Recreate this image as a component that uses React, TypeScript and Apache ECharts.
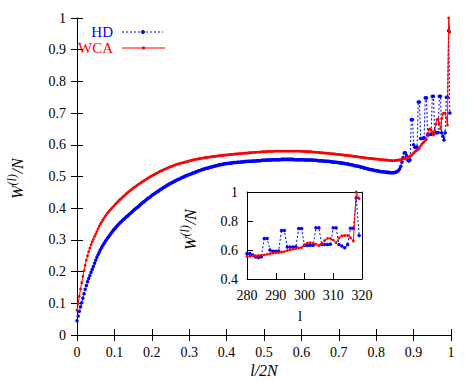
import React, { useEffect, useRef } from "react";
import * as echarts from "echarts";

const TWO_N = 320;

// HD (blue) W^(l)/N for l = 0..319
const hdValues: number[] = [
  0.045, 0.060, 0.075, 0.089, 0.102, 0.116, 0.130, 0.144, 0.156, 0.168,
  0.178, 0.188, 0.198, 0.207, 0.216, 0.226, 0.236, 0.245, 0.253, 0.261,
  0.269, 0.276, 0.282, 0.288, 0.294, 0.300, 0.305, 0.310, 0.315, 0.320,
  0.325, 0.330, 0.334, 0.338, 0.343, 0.347, 0.351, 0.355, 0.358, 0.362,
  0.365, 0.368, 0.372, 0.375, 0.378, 0.382, 0.385, 0.388, 0.392, 0.395,
  0.398, 0.401, 0.404, 0.407, 0.411, 0.414, 0.417, 0.420, 0.423, 0.426,
  0.429, 0.432, 0.434, 0.437, 0.440, 0.443, 0.445, 0.448, 0.450, 0.453,
  0.455, 0.458, 0.460, 0.463, 0.465, 0.467, 0.469, 0.472, 0.474, 0.476,
  0.478, 0.480, 0.482, 0.484, 0.486, 0.488, 0.490, 0.491, 0.493, 0.495,
  0.497, 0.498, 0.500, 0.502, 0.503, 0.505, 0.506, 0.508, 0.509, 0.511,
  0.512, 0.513, 0.515, 0.516, 0.518, 0.519, 0.520, 0.522, 0.523, 0.524,
  0.525, 0.526, 0.527, 0.528, 0.529, 0.530, 0.531, 0.532, 0.533, 0.534,
  0.535, 0.536, 0.537, 0.537, 0.538, 0.539, 0.540, 0.540, 0.541, 0.541,
  0.542, 0.542, 0.543, 0.543, 0.544, 0.544, 0.544, 0.545, 0.545, 0.545,
  0.546, 0.546, 0.546, 0.547, 0.547, 0.547, 0.548, 0.548, 0.548, 0.548,
  0.549, 0.549, 0.549, 0.549, 0.550, 0.550, 0.550, 0.550, 0.551, 0.551,
  0.551, 0.551, 0.552, 0.552, 0.552, 0.552, 0.552, 0.553, 0.553, 0.553,
  0.553, 0.553, 0.553, 0.553, 0.553, 0.554, 0.554, 0.554, 0.554, 0.554,
  0.554, 0.554, 0.554, 0.554, 0.554, 0.554, 0.553, 0.553, 0.553, 0.553,
  0.553, 0.553, 0.553, 0.553, 0.553, 0.552, 0.552, 0.552, 0.552, 0.552,
  0.552, 0.552, 0.551, 0.551, 0.551, 0.551, 0.550, 0.550, 0.550, 0.550,
  0.549, 0.549, 0.549, 0.548, 0.548, 0.548, 0.547, 0.547, 0.546, 0.546,
  0.546, 0.545, 0.545, 0.544, 0.544, 0.543, 0.543, 0.542, 0.542, 0.541,
  0.540, 0.540, 0.539, 0.538, 0.537, 0.537, 0.536, 0.535, 0.534, 0.533,
  0.532, 0.532, 0.531, 0.530, 0.529, 0.528, 0.527, 0.526, 0.525, 0.524,
  0.523, 0.522, 0.521, 0.521, 0.520, 0.519, 0.518, 0.518, 0.517, 0.516,
  0.516, 0.515, 0.515, 0.514, 0.514, 0.513, 0.513, 0.513, 0.512, 0.512,
  0.512, 0.512, 0.513, 0.514, 0.516, 0.519, 0.524, 0.532, 0.545, 0.560,
  0.575, 0.575, 0.566, 0.552, 0.549, 0.553, 0.680, 0.680, 0.600, 0.592,
  0.592, 0.593, 0.735, 0.735, 0.620, 0.620, 0.621, 0.622, 0.748, 0.748,
  0.632, 0.632, 0.633, 0.633, 0.753, 0.753, 0.638, 0.638, 0.638, 0.639,
  0.753, 0.753, 0.638, 0.627, 0.615, 0.638, 0.750, 0.750, 0.960, 0.700,
];

// WCA (red) W^(l)/N for l = 0..319
const wcaValues: number[] = [
  0.078, 0.100, 0.122, 0.145, 0.165, 0.185, 0.203, 0.220, 0.236, 0.250,
  0.263, 0.274, 0.285, 0.294, 0.302, 0.311, 0.319, 0.327, 0.335, 0.343,
  0.350, 0.356, 0.362, 0.368, 0.374, 0.379, 0.384, 0.389, 0.393, 0.397,
  0.401, 0.405, 0.409, 0.413, 0.417, 0.421, 0.425, 0.428, 0.431, 0.435,
  0.438, 0.441, 0.445, 0.448, 0.451, 0.454, 0.457, 0.460, 0.463, 0.466,
  0.468, 0.471, 0.474, 0.476, 0.479, 0.481, 0.484, 0.486, 0.488, 0.491,
  0.493, 0.495, 0.498, 0.500, 0.502, 0.504, 0.506, 0.508, 0.510, 0.512,
  0.514, 0.516, 0.518, 0.519, 0.521, 0.523, 0.524, 0.526, 0.528, 0.529,
  0.531, 0.532, 0.533, 0.535, 0.536, 0.538, 0.539, 0.540, 0.541, 0.542,
  0.543, 0.544, 0.545, 0.546, 0.547, 0.548, 0.549, 0.550, 0.551, 0.552,
  0.553, 0.554, 0.554, 0.555, 0.556, 0.556, 0.557, 0.558, 0.558, 0.559,
  0.560, 0.560, 0.561, 0.561, 0.562, 0.562, 0.563, 0.563, 0.564, 0.564,
  0.565, 0.565, 0.566, 0.566, 0.566, 0.567, 0.567, 0.568, 0.568, 0.568,
  0.569, 0.569, 0.570, 0.570, 0.570, 0.571, 0.571, 0.571, 0.572, 0.572,
  0.572, 0.573, 0.573, 0.573, 0.574, 0.574, 0.574, 0.575, 0.575, 0.575,
  0.576, 0.576, 0.576, 0.576, 0.577, 0.577, 0.577, 0.577, 0.578, 0.578,
  0.578, 0.578, 0.578, 0.579, 0.579, 0.579, 0.579, 0.579, 0.579, 0.580,
  0.580, 0.580, 0.580, 0.580, 0.580, 0.580, 0.580, 0.580, 0.580, 0.580,
  0.580, 0.580, 0.580, 0.580, 0.580, 0.580, 0.580, 0.580, 0.580, 0.580,
  0.580, 0.580, 0.579, 0.579, 0.579, 0.579, 0.579, 0.578, 0.578, 0.578,
  0.578, 0.578, 0.577, 0.577, 0.577, 0.576, 0.576, 0.576, 0.575, 0.575,
  0.575, 0.574, 0.574, 0.574, 0.573, 0.573, 0.573, 0.572, 0.572, 0.572,
  0.571, 0.571, 0.570, 0.570, 0.570, 0.569, 0.569, 0.568, 0.568, 0.567,
  0.567, 0.567, 0.566, 0.566, 0.565, 0.565, 0.564, 0.564, 0.563, 0.563,
  0.562, 0.562, 0.561, 0.561, 0.560, 0.560, 0.559, 0.559, 0.558, 0.558,
  0.557, 0.557, 0.557, 0.556, 0.556, 0.555, 0.555, 0.555, 0.554, 0.554,
  0.553, 0.553, 0.553, 0.552, 0.552, 0.552, 0.551, 0.551, 0.551, 0.550,
  0.550, 0.550, 0.550, 0.551, 0.551, 0.552, 0.552, 0.553, 0.554, 0.555,
  0.556, 0.557, 0.559, 0.561, 0.562, 0.564, 0.566, 0.570, 0.574, 0.578,
  0.581, 0.583, 0.586, 0.589, 0.596, 0.602, 0.606, 0.610, 0.614, 0.617,
  0.636, 0.648, 0.650, 0.647, 0.640, 0.631, 0.645, 0.665, 0.680, 0.680,
  0.668, 0.650, 0.683, 0.698, 0.700, 0.700, 0.685, 0.662, 1.000, 0.955,
];

const INSET_START = 280;
const seriesNames = ["HD", "WCA"];
const seriesColors = ["#0000ff", "#ff0000"];

const FONT = "Liberation Serif, serif";

export default function App() {
  const ref = useRef<HTMLDivElement>(null);

  useEffect(() => {
    if (!ref.current) return;
    document.body.style.margin = "0";
    const chart = echarts.init(ref.current, undefined, { renderer: "svg" });

    const mainData = (vals: number[]) => vals.map((v, l) => [l / TWO_N, v]);
    const insetData = (vals: number[]) =>
      vals.map((v, l) => [l, v]).filter((p) => p[0] >= INSET_START);

    const axisLine = { show: true, lineStyle: { color: "#000", width: 1 } };
    const label = { color: "#000", fontFamily: FONT, fontSize: 14 };

    const hdStyle = {
      type: "line" as const,
      symbol: "circle",
      symbolSize: 3.5,
      lineStyle: { type: [2, 2], width: 1, color: seriesColors[0] },
      itemStyle: { color: seriesColors[0] },
      animation: false,
    };
    const wcaStyle = {
      type: "line" as const,
      symbol: "circle",
      symbolSize: 2.8,
      lineStyle: { type: "solid", width: 1, color: seriesColors[1] },
      itemStyle: { color: seriesColors[1] },
      animation: false,
    };

    const yLabel = (cx: number, cy: number, size: number) => {
      const sup = Math.round(size * 0.72);
      const x0 = -22;
      return {
        type: "group",
        x: cx,
        y: cy,
        rotation: Math.PI / 2,
        children: [
          {
            type: "text",
            x: x0,
            y: 0,
            style: { text: "W", fontFamily: FONT, fontStyle: "italic", fontSize: size, fill: "#000", align: "left", verticalAlign: "middle" },
          },
          {
            type: "text",
            x: x0 + size * 0.85,
            y: -size * 0.32,
            style: { text: "(l)", fontFamily: FONT, fontStyle: "italic", fontSize: sup, fill: "#000", align: "left", verticalAlign: "middle" },
          },
          {
            type: "text",
            x: x0 + size * 0.85 + sup * 1.0,
            y: 0,
            style: { text: "/N", fontFamily: FONT, fontStyle: "italic", fontSize: size, fill: "#000", align: "left", verticalAlign: "middle" },
          },
        ],
      };
    };

    chart.setOption({
      animation: false,
      backgroundColor: "#fff",
      textStyle: { fontFamily: FONT },
      grid: [
        { left: 77, top: 18, width: 374, height: 317 },
        { left: 247, top: 192, width: 115, height: 87 },
      ],
      xAxis: [
        {
          gridIndex: 0, type: "value", min: 0, max: 1, interval: 0.1, position: "bottom",
          axisLine, axisTick: { inside: true, length: 6, lineStyle: { color: "#000" } },
          axisLabel: { ...label, margin: 10 }, splitLine: { show: false },
        },
        {
          gridIndex: 0, type: "value", min: 0, max: 1, interval: 0.1, position: "top",
          axisLine, axisTick: { inside: true, length: 6, lineStyle: { color: "#000" } },
          axisLabel: { show: false }, splitLine: { show: false },
        },
        {
          gridIndex: 1, type: "value", min: 280, max: 320, interval: 10, position: "bottom",
          axisLine, axisTick: { inside: true, length: 6, lineStyle: { color: "#000" } },
          axisLabel: { ...label, margin: 9 }, splitLine: { show: false },
        },
        {
          gridIndex: 1, type: "value", min: 280, max: 320, interval: 10, position: "top",
          axisLine, axisTick: { show: false }, axisLabel: { show: false }, splitLine: { show: false },
        },
      ],
      yAxis: [
        {
          gridIndex: 0, type: "value", min: 0, max: 1, interval: 0.1, position: "left",
          axisLine, axisTick: { inside: true, length: 6, lineStyle: { color: "#000" } },
          axisLabel: { ...label, margin: 11 }, splitLine: { show: false },
        },
        {
          gridIndex: 0, type: "value", min: 0, max: 1, interval: 0.1, position: "right",
          axisLine, axisTick: { inside: true, length: 6, lineStyle: { color: "#000" } },
          axisLabel: { show: false }, splitLine: { show: false },
        },
        {
          gridIndex: 1, type: "value", min: 0.4, max: 1, interval: 0.2, position: "left",
          axisLine, axisTick: { inside: true, length: 6, lineStyle: { color: "#000" } },
          axisLabel: { ...label, margin: 9 }, splitLine: { show: false },
        },
        {
          gridIndex: 1, type: "value", min: 0.4, max: 1, interval: 0.2, position: "right",
          axisLine, axisTick: { show: false }, axisLabel: { show: false }, splitLine: { show: false },
        },
      ],
      series: [
        { ...hdStyle, name: seriesNames[0], xAxisIndex: 0, yAxisIndex: 0, data: mainData(hdValues), z: 2 },
        { ...wcaStyle, name: seriesNames[1], xAxisIndex: 0, yAxisIndex: 0, data: mainData(wcaValues), z: 3 },
        { ...hdStyle, name: seriesNames[0], xAxisIndex: 2, yAxisIndex: 2, data: insetData(hdValues), z: 4 },
        { ...wcaStyle, name: seriesNames[1], xAxisIndex: 2, yAxisIndex: 2, data: insetData(wcaValues), z: 5 },
      ],
      graphic: [
        // legend
        { type: "text", x: 113, y: 32, style: { text: seriesNames[0], fontFamily: FONT, fontSize: 15, fill: seriesColors[0], align: "right", verticalAlign: "middle" } },
        { type: "line", shape: { x1: 122, y1: 32, x2: 163, y2: 32 }, style: { stroke: seriesColors[0], lineWidth: 1, lineDash: [2, 2] } },
        { type: "circle", shape: { cx: 143, cy: 32, r: 2 }, style: { fill: seriesColors[0] } },
        { type: "text", x: 113, y: 48, style: { text: seriesNames[1], fontFamily: FONT, fontSize: 15, fill: seriesColors[1], align: "right", verticalAlign: "middle" } },
        { type: "line", shape: { x1: 122, y1: 48, x2: 165, y2: 48 }, style: { stroke: seriesColors[1], lineWidth: 1 } },
        { type: "circle", shape: { cx: 143.5, cy: 48, r: 1.6 }, style: { fill: seriesColors[1] } },
        // axis titles
        yLabel(17, 177, 16),
        yLabel(190, 228, 16),
        { type: "text", x: 264, y: 370, style: { text: "l/2N", fontFamily: FONT, fontStyle: "italic", fontSize: 16, fill: "#000", align: "center", verticalAlign: "middle" } },
        { type: "text", x: 300, y: 316, style: { text: "l", fontFamily: FONT, fontSize: 15, fill: "#000", align: "center", verticalAlign: "middle" } },
      ],
    });

    return () => chart.dispose();
  }, []);

  return <div ref={ref} style={{ width: 475, height: 382 }} />;
}
